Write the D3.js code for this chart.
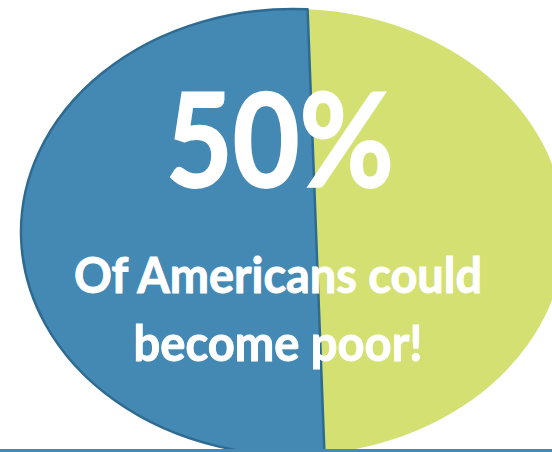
<html>
	<head>
		<script src="https://cdnjs.cloudflare.com/ajax/libs/d3/7.8.5/d3.min.js"></script>
		<style>
			body{ margin:0; background:#fff; }
			svg{ display:block; }
			text{ font-family: Lato, "Open Sans", sans-serif; font-weight:bold; fill:#fff; stroke:#fff; }
		</style>
	</head>
	<body>
		<svg></svg>
		<script>
			// chart data
			var categories = ["Could become poor", "Others"];
			var shares = [50, 50];
			var sliceColors = ["#4389b4", "#d4e172"];
			var captionLines = ["Of Americans could", "become poor!"];

			var W = 552, H = 452;
			var svg = d3.select("svg").attr("width", W).attr("height", H);

			// tilted pie: ellipse plus an off-centre apex
			var cx = 293, cy = 232, rx = 272, ry = 223;
			var apex = [316, 231];
			var tilt = -0.038;

			var color = d3.scaleOrdinal(categories, sliceColors);
			var pie = d3.pie().sort(null).value(function(d){ return d.value; })
				.startAngle(tilt + Math.PI).endAngle(tilt + 3 * Math.PI);
			var arcs = pie(categories.map(function(c, i){ return {name: c, value: shares[i]}; }));

			// where a ray from the apex at pie angle a meets the ellipse
			function rim(a){
				var dx = Math.sin(a), dy = -Math.cos(a);
				var px = (apex[0] - cx) / rx, py = (apex[1] - cy) / ry;
				var qx = dx / rx, qy = dy / ry;
				var A = qx*qx + qy*qy, B = 2*(px*qx + py*qy), C = px*px + py*py - 1;
				var t = (-B + Math.sqrt(B*B - 4*A*C)) / (2*A);
				return [apex[0] + t*dx, apex[1] + t*dy];
			}
			function param(p){
				var t = Math.atan2((p[0] - cx) / rx, -(p[1] - cy) / ry);
				return t < 0 ? t + 2*Math.PI : t;
			}
			function slicePath(d){
				var p0 = rim(d.startAngle), p1 = rim(d.endAngle);
				var span = param(p1) - param(p0);
				if(span < 0) span += 2*Math.PI;
				var large = span > Math.PI ? 1 : 0;
				return "M" + apex + "L" + p0 + "A" + rx + "," + ry + " 0 " + large + " 1 " + p1 + "Z";
			}

			// yellow first, blue (outlined) on top
			svg.selectAll("path.slice")
				.data(arcs.slice().reverse()).enter().append("path")
				.attr("class", "slice")
				.attr("d", slicePath)
				.attr("fill", function(d){ return color(d.data.name); })
				.attr("stroke", function(d, i){ return i == 1 ? "#2f6a91" : "none"; })
				.attr("stroke-width", 2.5)
				.attr("stroke-linejoin", "round");

			// bottom rule
			svg.append("rect")
				.attr("x", 0).attr("y", 449).attr("width", W).attr("height", 3)
				.attr("fill", "#4589b5");

			svg.append("text")
				.attr("x", 280).attr("y", 187)
				.attr("text-anchor", "middle")
				.attr("font-size", 130)
				.attr("stroke-width", 2)
				.attr("textLength", 228).attr("lengthAdjust", "spacingAndGlyphs")
				.text(shares[0] + "%");

			var lineY = [293, 361], lineW = [408, 289];
			svg.selectAll("text.caption")
				.data(captionLines).enter().append("text")
				.attr("class", "caption")
				.attr("x", 278)
				.attr("y", function(d, i){ return lineY[i]; })
				.attr("text-anchor", "middle")
				.attr("font-size", 49)
				.attr("stroke-width", 1)
				.attr("textLength", function(d, i){ return lineW[i]; })
				.attr("lengthAdjust", "spacingAndGlyphs")
				.text(function(d){ return d; });
		</script>
	</body>
</html>
